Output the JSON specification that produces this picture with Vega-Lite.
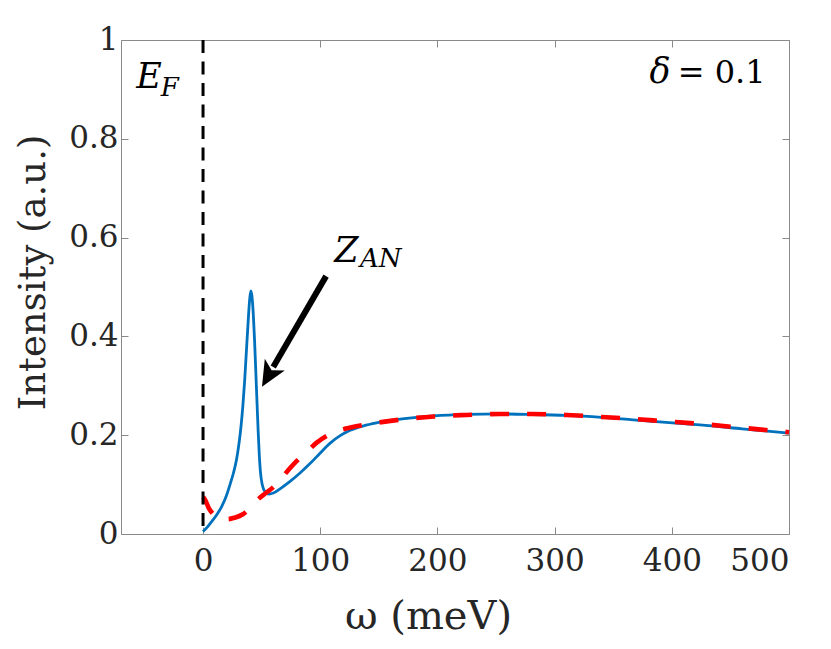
{
  "$schema": "https://vega.github.io/schema/vega-lite/v6.json",
  "width": 668,
  "height": 494,
  "autosize": "none",
  "padding": {"left": 121, "top": 40, "right": 42, "bottom": 115},
  "background": "white",
  "config": {
    "font": "DejaVu Serif",
    "view": {"stroke": "#8a8a8a", "strokeWidth": 1},
    "text": {"font": "DejaVu Serif"},
    "axis": {
      "domain": false,
      "grid": false,
      "tickSize": -7,
      "tickColor": "#8a8a8a",
      "tickWidth": 1,
      "labelFont": "DejaVu Serif",
      "labelFontSize": 31,
      "labelColor": "#262626",
      "titleFont": "DejaVu Serif",
      "titleFontSize": 37,
      "titleFontWeight": "normal",
      "titleColor": "#262626"
    }
  },
  "datasets": {
    "blue": [
      {"w": 0, "I": 0.005}, {"w": 4, "I": 0.015}, {"w": 8, "I": 0.027}, {"w": 12, "I": 0.04},
      {"w": 16, "I": 0.056}, {"w": 20, "I": 0.078}, {"w": 23, "I": 0.1}, {"w": 26, "I": 0.124},
      {"w": 28.5, "I": 0.15}, {"w": 30.5, "I": 0.18}, {"w": 32.5, "I": 0.22}, {"w": 34, "I": 0.26},
      {"w": 35.5, "I": 0.31}, {"w": 37, "I": 0.37}, {"w": 38.5, "I": 0.43}, {"w": 39.8, "I": 0.475},
      {"w": 40.8, "I": 0.492}, {"w": 41.8, "I": 0.48}, {"w": 43, "I": 0.44}, {"w": 44, "I": 0.39},
      {"w": 45, "I": 0.33}, {"w": 46, "I": 0.27}, {"w": 47, "I": 0.21}, {"w": 48, "I": 0.16},
      {"w": 49, "I": 0.125}, {"w": 50.5, "I": 0.1}, {"w": 52, "I": 0.089}, {"w": 54, "I": 0.083},
      {"w": 56.5, "I": 0.081}, {"w": 60, "I": 0.083}, {"w": 66, "I": 0.092}, {"w": 74, "I": 0.106},
      {"w": 83, "I": 0.124}, {"w": 91.5, "I": 0.143}, {"w": 100, "I": 0.164}, {"w": 108.5, "I": 0.184},
      {"w": 117, "I": 0.199}, {"w": 125.6, "I": 0.21}, {"w": 137, "I": 0.219}, {"w": 148, "I": 0.225},
      {"w": 170, "I": 0.233}, {"w": 197, "I": 0.239}, {"w": 225, "I": 0.242}, {"w": 253, "I": 0.243},
      {"w": 280, "I": 0.242}, {"w": 310, "I": 0.24}, {"w": 340, "I": 0.236}, {"w": 367, "I": 0.231},
      {"w": 395, "I": 0.226}, {"w": 424, "I": 0.221}, {"w": 460, "I": 0.213}, {"w": 500, "I": 0.204}
    ],
    "red": [
      {"w": 0, "I": 0.075}, {"w": 2, "I": 0.068}, {"w": 5, "I": 0.052}, {"w": 8, "I": 0.042},
      {"w": 12, "I": 0.034}, {"w": 17, "I": 0.03}, {"w": 21, "I": 0.03}, {"w": 27, "I": 0.033},
      {"w": 34, "I": 0.04}, {"w": 40, "I": 0.052}, {"w": 46, "I": 0.068}, {"w": 53, "I": 0.082},
      {"w": 60, "I": 0.095}, {"w": 66, "I": 0.11}, {"w": 73, "I": 0.13}, {"w": 80, "I": 0.148},
      {"w": 88, "I": 0.165}, {"w": 97, "I": 0.185}, {"w": 105, "I": 0.198}, {"w": 112, "I": 0.206},
      {"w": 125, "I": 0.215}, {"w": 140, "I": 0.222}, {"w": 160, "I": 0.229}, {"w": 197, "I": 0.238},
      {"w": 225, "I": 0.241}, {"w": 253, "I": 0.243}, {"w": 280, "I": 0.243}, {"w": 310, "I": 0.241},
      {"w": 340, "I": 0.237}, {"w": 367, "I": 0.233}, {"w": 395, "I": 0.228}, {"w": 424, "I": 0.223},
      {"w": 460, "I": 0.215}, {"w": 500, "I": 0.206}
    ],
    "fermi": [{"w": 0}],
    "arrow": [{"w": 105, "I": 0.522, "w2": 59.9, "I2": 0.338}],
    "tip": [{"w": 50.3, "I": 0.298}],
    "bigText": [
      {"w": -57, "I": 0.903, "t": "E"},
      {"w": 112, "I": 0.551, "t": "Z"},
      {"w": 381, "I": 0.912, "t": "δ"}
    ],
    "subText": [
      {"w": -36, "I": 0.887, "t": "F"},
      {"w": 134, "I": 0.54, "t": "AN"}
    ],
    "plainText": [
      {"w": 405, "I": 0.912, "t": "= 0.1"}
    ]
  },
  "layer": [
    {
      "data": {"name": "blue"},
      "mark": {"type": "line", "color": "#0072BD", "strokeWidth": 2.8, "interpolate": "monotone"},
      "encoding": {
        "x": {
          "field": "w", "type": "quantitative",
          "scale": {"domain": [-70, 500], "nice": false, "zero": false},
          "axis": {"values": [0, 100, 200, 300, 400, 500], "title": "ω (meV)", "labelPadding": 19, "titlePadding": 20, "titleFontSize": 40, "titleX": 307}
        },
        "y": {
          "field": "I", "type": "quantitative",
          "scale": {"domain": [0, 1], "nice": false},
          "axis": {"values": [0, 0.2, 0.4, 0.6, 0.8, 1], "format": "~g", "title": "Intensity (a.u.)", "labelPadding": 10, "titlePadding": 16, "titleY": 232}
        }
      }
    },
    {
      "data": {"name": "red"},
      "mark": {"type": "line", "color": "#FF0000", "strokeWidth": 4.6, "strokeDash": [19, 18], "interpolate": "monotone"},
      "encoding": {
        "x": {"field": "w", "type": "quantitative", "axis": null},
        "y": {"field": "I", "type": "quantitative", "axis": null}
      }
    },
    {
      "data": {"name": "fermi"},
      "mark": {"type": "rule", "color": "black", "strokeWidth": 3, "strokeDash": [13, 8.5]},
      "encoding": {
        "x": {"field": "w", "type": "quantitative", "axis": null}
      }
    },
    {
      "data": {"name": "arrow"},
      "mark": {"type": "rule", "color": "black", "strokeWidth": 6},
      "encoding": {
        "x": {"field": "w", "type": "quantitative", "axis": null},
        "y": {"field": "I", "type": "quantitative", "axis": null},
        "x2": {"field": "w2"},
        "y2": {"field": "I2"}
      }
    },
    {
      "data": {"name": "tip"},
      "mark": {"type": "point", "shape": "M0,0 L-0.45,1 L0,0.75 L0.45,1 Z", "filled": true, "color": "black", "opacity": 1, "size": 2620, "angle": 210},
      "encoding": {
        "x": {"field": "w", "type": "quantitative", "axis": null},
        "y": {"field": "I", "type": "quantitative", "axis": null}
      }
    },
    {
      "data": {"name": "bigText"},
      "mark": {"type": "text", "align": "left", "baseline": "alphabetic", "fontSize": 35, "fontStyle": "italic", "color": "black"},
      "encoding": {
        "x": {"field": "w", "type": "quantitative", "axis": null},
        "y": {"field": "I", "type": "quantitative", "axis": null},
        "text": {"field": "t"}
      }
    },
    {
      "data": {"name": "subText"},
      "mark": {"type": "text", "align": "left", "baseline": "alphabetic", "fontSize": 26, "fontStyle": "italic", "color": "black"},
      "encoding": {
        "x": {"field": "w", "type": "quantitative", "axis": null},
        "y": {"field": "I", "type": "quantitative", "axis": null},
        "text": {"field": "t"}
      }
    },
    {
      "data": {"name": "plainText"},
      "mark": {"type": "text", "align": "left", "baseline": "alphabetic", "fontSize": 32, "color": "black"},
      "encoding": {
        "x": {"field": "w", "type": "quantitative", "axis": null},
        "y": {"field": "I", "type": "quantitative", "axis": null},
        "text": {"field": "t"}
      }
    },
    {
      "data": {"name": "fermi"},
      "mark": {"type": "point", "opacity": 0},
      "encoding": {
        "x": {
          "field": "w", "type": "quantitative",
          "axis": {"orient": "top", "values": [0, 100, 200, 300, 400, 500], "labels": false, "title": null}
        },
        "y": {
          "datum": 0, "type": "quantitative",
          "axis": {"orient": "right", "values": [0, 0.2, 0.4, 0.6, 0.8, 1], "labels": false, "title": null}
        }
      }
    }
  ],
  "resolve": {"axis": {"x": "independent", "y": "independent"}}
}
